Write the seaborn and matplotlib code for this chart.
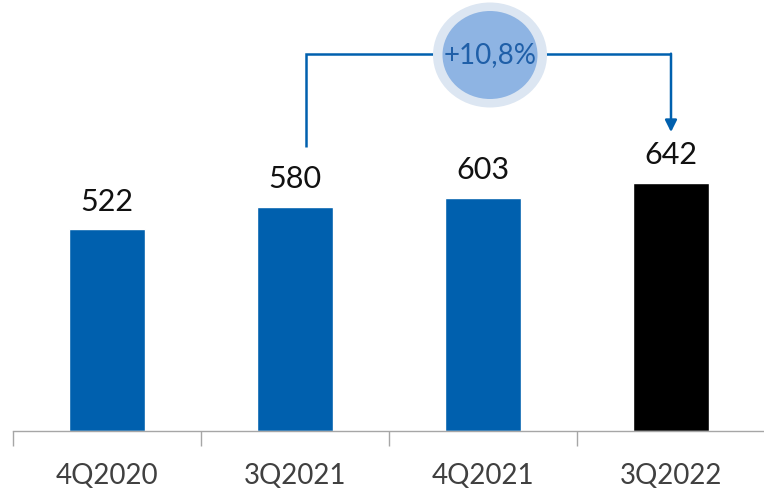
import matplotlib
matplotlib.use('Agg')
import matplotlib.pyplot as plt
import seaborn as sns
from matplotlib.patches import Ellipse

quarters = ['4Q2020', '3Q2021', '4Q2021', '3Q2022']
values = [522, 580, 603, 642]
bar_colors = ['#0060AE', '#0060AE', '#0060AE', '#000000']
growth_label = '+10,8%'

sns.set_style('white')
plt.rcParams['font.family'] = ['Lato', 'DejaVu Sans']

fig = plt.figure(figsize=(7.64, 4.94), dpi=100)
ax = fig.add_axes([13 / 764, 63 / 494, 752 / 764, 431 / 494])

sns.barplot(x=quarters, y=values, hue=quarters, palette=bar_colors,
            legend=False, width=0.4, saturation=1, ax=ax)

ax.set_xlim(-0.5, 3.5)
ax.set_ylim(0, 1116)

# value labels over the bars
for i, v in enumerate(values):
    ax.text(i, v + 72, str(v), ha='center', va='center', fontsize=22,
            color='#111111')

# axis styling
for s in ['top', 'right', 'left']:
    ax.spines[s].set_visible(False)
ax.spines['bottom'].set_color('#A6A6A6')
ax.spines['bottom'].set_linewidth(1)
ax.set_yticks([])
ax.set_xticks(range(len(quarters)))
ax.set_xticklabels(quarters, fontsize=20, color='#404040')
ax.tick_params(axis='x', which='major', length=0, pad=23)
ax.set_xticks([-0.5, 0.5, 1.5, 2.5], minor=True)
ax.tick_params(axis='x', which='minor', length=11, color='#A6A6A6', width=1,
               direction='out', bottom=True)
ax.set_xlabel('')
ax.set_ylabel('')

# growth bracket from 3Q2021 to 3Q2022
line_color = '#0060AE'
ax.plot([1.06, 1.06, 3.0], [735, 976, 976], color=line_color, lw=1.8,
        solid_capstyle='butt', solid_joinstyle='miter')
ax.annotate('', xy=(3.0, 774), xytext=(3.0, 977),
            arrowprops=dict(arrowstyle='-|>,head_length=0.7,head_width=0.35',
                            color=line_color, lw=1.8, shrinkA=0, shrinkB=0))

# circle badge
cx, cy = 490 / 764, 1 - 55 / 494
fig.patches.append(Ellipse((cx, cy), 114 / 764, 105 / 494, transform=fig.transFigure,
                           facecolor='#DCE6F2', edgecolor='none', zorder=5))
fig.patches.append(Ellipse((cx, cy), 95 / 764, 88 / 494, transform=fig.transFigure,
                           facecolor='#8EB4E3', edgecolor='none', zorder=6))
fig.text(cx, cy, growth_label, ha='center', va='center', fontsize=20,
         color='#1F5FA8', zorder=7)

fig.savefig('out.png', dpi=100)
